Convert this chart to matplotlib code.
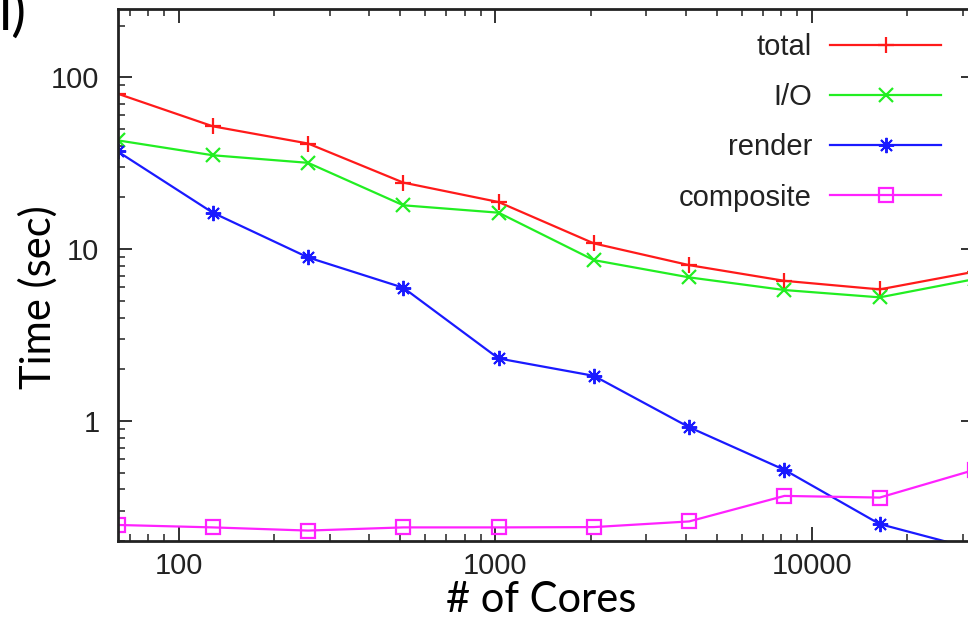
import matplotlib
matplotlib.use("Agg")
import matplotlib.pyplot as plt
from matplotlib.ticker import FixedLocator, FixedFormatter, LogLocator, NullFormatter

# ---- data ----
cores = [64, 128, 256, 512, 1024, 2048, 4096, 8192, 16384, 32768]
total = [80.4, 51.9, 41.2, 24.4, 18.8, 10.8, 8.07, 6.54, 5.83, 7.4]
io = [43.0, 35.2, 31.8, 18.0, 16.3, 8.63, 6.85, 5.78, 5.24, 6.7]
render = [37.1, 16.3, 8.95, 5.96, 2.31, 1.83, 0.919, 0.519, 0.251, 0.179]
composite = [0.248, 0.240, 0.230, 0.240, 0.240, 0.241, 0.260, 0.366, 0.358, 0.52]

series_labels = ["total", "I/O", "render", "composite"]
x_ticks = [100, 1000, 10000]
x_ticklabels = ["100", "1000", "10000"]
y_ticks = [1, 10, 100]
y_ticklabels = ["1", "10", "100"]

W, H = 968, 621
fig = plt.figure(figsize=(W / 100, H / 100), dpi=100)
L, R, T, B = 117.5, 975, 9, 541
ax = fig.add_axes([L / W, 1 - B / H, (R - L) / W, (B - T) / H])

lw = 1.6
ax.plot(cores, total, color="#ff1a1a", lw=lw, marker="+", ms=11, mew=1.6, label=series_labels[0])
ax.plot(cores, io, color="#22ee22", lw=lw, marker="x", ms=10, mew=1.6, label=series_labels[1])
ax.plot(cores, render, color="#1a1aff", lw=lw, marker=(8, 2, 0), ms=11, mew=1.4, label=series_labels[2])
ax.plot(cores, composite, color="#ff22ff", lw=lw, marker="s", ms=10, mew=1.6, mfc="none", label=series_labels[3])

ax.set_xscale("log")
ax.set_yscale("log")
ax.set_xlim(64, 32768)
ax.set_ylim(0.2, 250)

FS = 21
ax.xaxis.set_major_locator(FixedLocator(x_ticks))
ax.xaxis.set_major_formatter(FixedFormatter(x_ticklabels))
ax.yaxis.set_major_locator(FixedLocator(y_ticks))
ax.yaxis.set_major_formatter(FixedFormatter(y_ticklabels))
ax.xaxis.set_minor_locator(LogLocator(base=10, subs=range(2, 10), numticks=20))
ax.yaxis.set_minor_locator(LogLocator(base=10, subs=range(2, 10), numticks=20))
ax.xaxis.set_minor_formatter(NullFormatter())
ax.yaxis.set_minor_formatter(NullFormatter())
for lab in ax.get_xticklabels() + ax.get_yticklabels():
    lab.set_fontfamily("Liberation Sans")
    lab.set_fontsize(FS)
    lab.set_color("#222222")

ax.tick_params(which="both", direction="in", top=True, right=True, color="#222222")
ax.tick_params(which="major", length=10, width=1.3)
ax.tick_params(which="minor", length=5, width=1.1)
ax.tick_params(axis="x", which="major", pad=8)
ax.tick_params(axis="y", which="major", pad=13)
for s in ax.spines.values():
    s.set_linewidth(2)
    s.set_color("#222222")

leg = ax.legend(loc="upper right", bbox_to_anchor=(941 / W, 1 - 33 / H),
                bbox_transform=fig.transFigure, markerfirst=False, frameon=False,
                prop={"family": "Liberation Sans", "size": FS},
                handlelength=3.8, handletextpad=0.62, labelspacing=0.76,
                borderaxespad=0, borderpad=0)
for t in leg.get_texts():
    t.set_color("#222222")
    t.set_ha("right")

fig.text(38 / W, 1 - 297 / H, "Time (sec)", rotation=90, ha="center", va="center",
         family="Lato", fontsize=30, color="black")
fig.text(541 / W, 1 - 600 / H, "# of Cores", ha="center", va="center",
         family="Lato", fontsize=30, color="black")
fig.text(-1 / W, 1 + 12 / H, "l)", ha="left", va="top", family="Lato",
         fontsize=40, color="black")

fig.savefig("out.png", dpi=100)
